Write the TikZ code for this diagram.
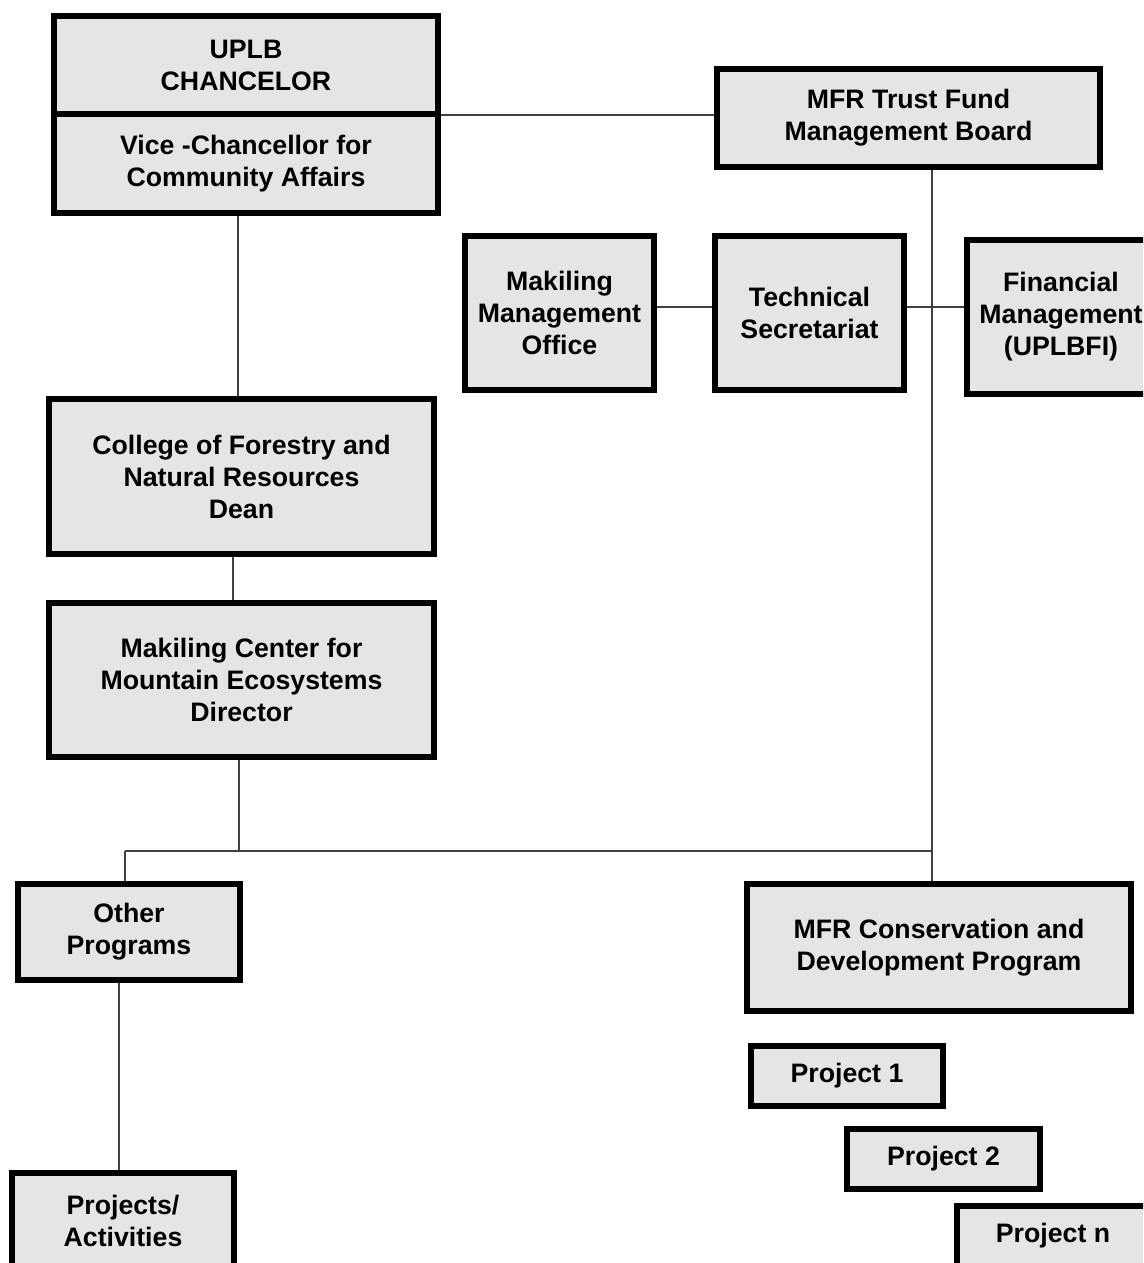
\documentclass[tikz,border=0pt]{standalone}
\usepackage{fontspec}
\setmainfont{Liberation Sans}
\usetikzlibrary{positioning}

\begin{document}
\begin{tikzpicture}[x=1pt,y=-1pt,
    unit/.style={draw,line width=6pt,fill=gray!20,align=center,inner sep=0pt,
      font=\fontsize{26.7}{32}\selectfont\bfseries},
    link/.style={line width=1.2pt,draw=black!75}]
    \useasboundingbox (0,0) rectangle (1143,1263);
    \clip (0,0) rectangle (1143,1263);

    \node[unit,minimum width=384pt,minimum height=98pt] (chan) at (246,65) {UPLB\\CHANCELOR};
    \node[unit,minimum width=384pt,minimum height=99pt,below=-6pt of chan] (vice) {Vice -Chancellor for\\Community Affairs};
    \node[unit,minimum width=383pt,minimum height=98pt] (board) at (908.5,118) {MFR Trust Fund\\Management Board};
    \node[unit,minimum width=189pt,minimum height=154pt] (mmo) at (559.5,313) {Makiling\\Management\\Office};
    \node[unit,minimum width=189pt,minimum height=154pt] (techsec) at (809.5,313) {Technical\\Secretariat};
    \node[unit,minimum width=188pt,minimum height=154pt] (finman) at (1061,317) {Financial\\Management\\(UPLBFI)};
    \node[unit,minimum width=385pt,minimum height=155pt] (cfnr) at (241.5,476.5) {College of Forestry and\\Natural Resources\\Dean};
    \node[unit,minimum width=385pt,minimum height=154pt] (mcme) at (241.5,680) {Makiling Center for\\Mountain Ecosystems\\Director};
    \node[unit,minimum width=222pt,minimum height=96pt] (other) at (129,932) {Other\\Programs};
    \node[unit,minimum width=384pt,minimum height=127pt] (cdp) at (939,947.5) {MFR Conservation and\\Development Program};
    \node[unit,minimum width=222pt,minimum height=96pt] (acts) at (123,1221) {Projects/\\Activities};
    \node[unit,minimum width=192pt,minimum height=60pt] (p_1) at (847,1076) {Project 1};
    \node[unit,minimum width=193pt,minimum height=60pt] (p_2) at (943.5,1159) {Project 2};
    \node[unit,minimum width=192pt,minimum height=60pt] (p_n) at (1053,1236) {Project n};

    \coordinate (tier) at (0,307);
    \coordinate (bus) at (0,851);
    \coordinate (drop) at ([xshift=23.5pt]board.south);

    \path[link]
    ([yshift=2pt]chan.south east) edge ([yshift=2pt]chan.south east -| board.west)
    ([xshift=-8pt]vice.south) edge ([xshift=-8pt]vice.south |- cfnr.north)
    ([xshift=-8.5pt]cfnr.south) edge ([xshift=-8.5pt]mcme.north)
    ([xshift=-2.5pt]mcme.south) edge ([xshift=-2.5pt]mcme.south |- bus)
    ([xshift=-4pt]other.north |- bus) edge (drop |- bus)
    ([xshift=-4pt]other.north) edge ([xshift=-4pt]other.north |- bus)
    (drop) edge (drop |- cdp.north)
    (mmo.east |- tier) edge (techsec.west |- tier)
    (techsec.east |- tier) edge (finman.west |- tier)
    ([xshift=-10pt]other.south) edge ([xshift=-4pt]acts.north)
    ;
\end{tikzpicture}
\end{document}
